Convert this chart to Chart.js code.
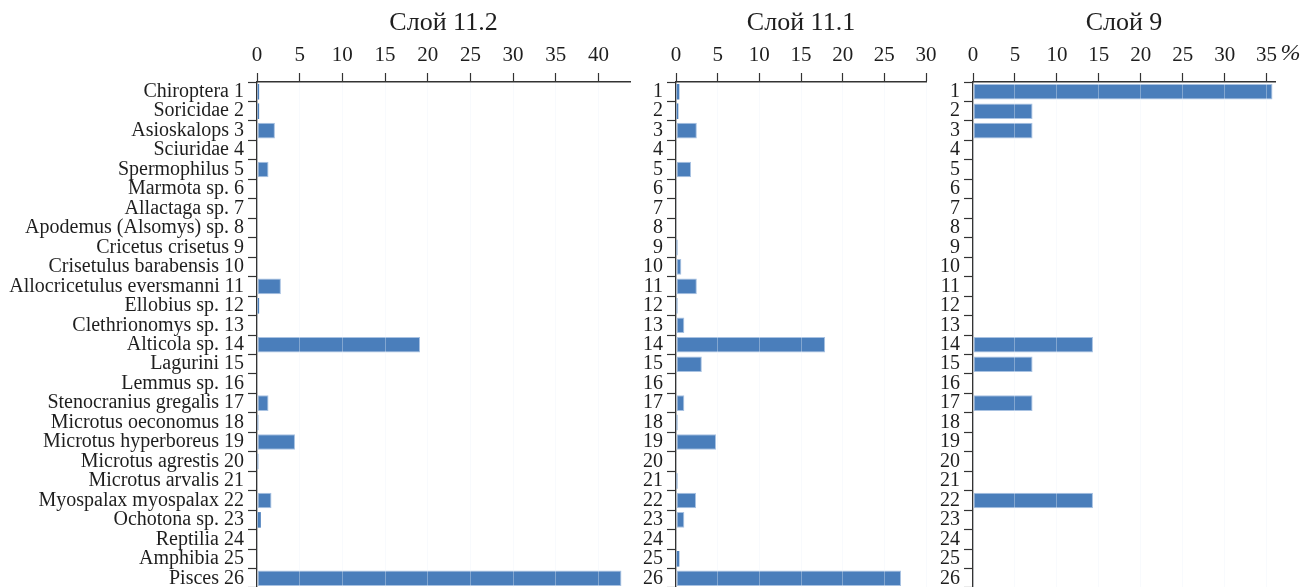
<!DOCTYPE html>
<html>
<head>
<meta charset="utf-8">
<script src="https://cdn.jsdelivr.net/npm/chart.js@4.4.1/dist/chart.umd.min.js"></script>
<style>
  html, body { margin: 0; padding: 0; background: #fff; overflow: hidden; }
  canvas { position: absolute; top: 0; }
</style>
</head>
<body>
<canvas id="c1" width="650" height="589" style="left:0px"></canvas>
<canvas id="c2" width="310" height="589" style="left:636px"></canvas>
<canvas id="c3" width="375" height="589" style="left:936px"></canvas>
<script>
const taxa = ['Chiroptera', 'Soricidae', 'Asioskalops', 'Sciuridae', 'Spermophilus', 'Marmota sp.',
    'Allactaga sp.', 'Apodemus (Alsomys) sp.', 'Cricetus crisetus', 'Crisetulus barabensis',
    'Allocricetulus eversmanni', 'Ellobius sp.', 'Clethrionomys sp.', 'Alticola sp.', 'Lagurini',
    'Lemmus sp.', 'Stenocranius gregalis', 'Microtus oeconomus', 'Microtus hyperboreus',
    'Microtus agrestis', 'Microtus arvalis', 'Myospalax myospalax', 'Ochotona sp.', 'Reptilia',
    'Amphibia', 'Pisces'];
const numbers = taxa.map((t, i) => String(i + 1));

const layerTitles = ['Слой 11.2', 'Слой 11.1', 'Слой 9'];
const layer112 = [0.25, 0.25, 2.1, 0, 1.35, 0, 0, 0, 0, 0, 2.8, 0.25, 0, 19.1, 0, 0, 1.35, 0.15, 4.45, 0.15, 0, 1.7, 0.45, 0, 0, 42.7];
const layer111 = [0.4, 0.28, 2.5, 0, 1.8, 0, 0, 0, 0.16, 0.64, 2.5, 0.16, 1.0, 17.9, 3.1, 0, 1.0, 0.16, 4.8, 0, 0.16, 2.4, 1.0, 0, 0.4, 27.0];
const layer9 = [35.7, 7.1, 7.1, 0, 0, 0, 0, 0, 0, 0, 0, 0, 0, 14.3, 7.1, 0, 7.1, 0, 0, 0, 0, 14.3, 0, 0, 0, 0];
const axisMax = [43.7, 30, 36];
const tickStep = 5;

const serif = "'Liberation Serif', 'Times New Roman', serif";
const ink = '#1e1e1e';
const axisColor = '#333';

// the "%" mark after the last tick of the right panel
const percentSign = {
    id: 'percentSign',
    afterDraw(chart) {
        const x = chart.scales.x;
        const ctx = chart.ctx;
        ctx.save();
        ctx.font = 'italic 24px ' + serif;
        ctx.fillStyle = ink;
        ctx.textBaseline = 'middle';
        ctx.fillText('%', x.getPixelForValue(35) + 14, 54);
        ctx.restore();
    }
};

function makePanel(id, labels, values, title, max, yWidth, padRight, extra) {
    new Chart(document.getElementById(id), {
        type: 'bar',
        data: {
            labels: labels,
            datasets: [{
                data: values,
                backgroundColor: '#4a7ebb',
                borderColor: '#a8c2e2',
                borderWidth: c => (c.raw > 0.5 ? 1 : 0),
                borderSkipped: false,
                barPercentage: 0.8,
                categoryPercentage: 1.0
            }]
        },
        options: {
            indexAxis: 'y',
            responsive: false,
            animation: false,
            layout: { padding: { top: 0, right: padRight, bottom: 1, left: 0 } },
            plugins: { legend: { display: false }, tooltip: { enabled: false } },
            scales: {
                x: {
                    position: 'top',
                    min: 0,
                    max: max,
                    afterFit: s => { s.height = 82; s.paddingLeft = 0; s.paddingRight = 0; },
                    ticks: {
                        stepSize: tickStep,
                        includeBounds: false,
                        font: { family: serif, size: 21 },
                        color: ink,
                        padding: 5
                    },
                    grid: {
                        drawOnChartArea: true,
                        color: 'rgba(236,241,248,0.35)',
                        z: 1,
                        tickLength: 9,
                        tickColor: axisColor,
                        tickWidth: 1.2
                    },
                    border: { color: axisColor, width: 1.5, z: 1 },
                    title: {
                        display: true,
                        text: title,
                        font: { family: serif, size: 26 },
                        color: ink,
                        padding: { top: 8, bottom: 0 }
                    }
                },
                y: {
                    type: 'category',
                    afterFit: s => { s.width = yWidth; s.paddingTop = 0; s.paddingBottom = 0; },
                    ticks: {
                        autoSkip: false,
                        font: { family: serif, size: 20 },
                        color: ink,
                        padding: 4
                    },
                    grid: {
                        offset: true,
                        drawOnChartArea: false,
                        tickLength: 9,
                        tickColor: axisColor,
                        tickWidth: 1.2
                    },
                    border: { color: axisColor, width: 1.5 }
                }
            }
        },
        plugins: extra ? [extra] : []
    });
}

makePanel('c1', taxa.map((t, i) => t + ' ' + (i + 1)), layer112, layerTitles[0], axisMax[0], 257, 20);
makePanel('c2', numbers, layer111, layerTitles[1], axisMax[1], 40, 20);
makePanel('c3', numbers, layer9, layerTitles[2], axisMax[2], 37, 36, percentSign);
</script>
</body>
</html>
